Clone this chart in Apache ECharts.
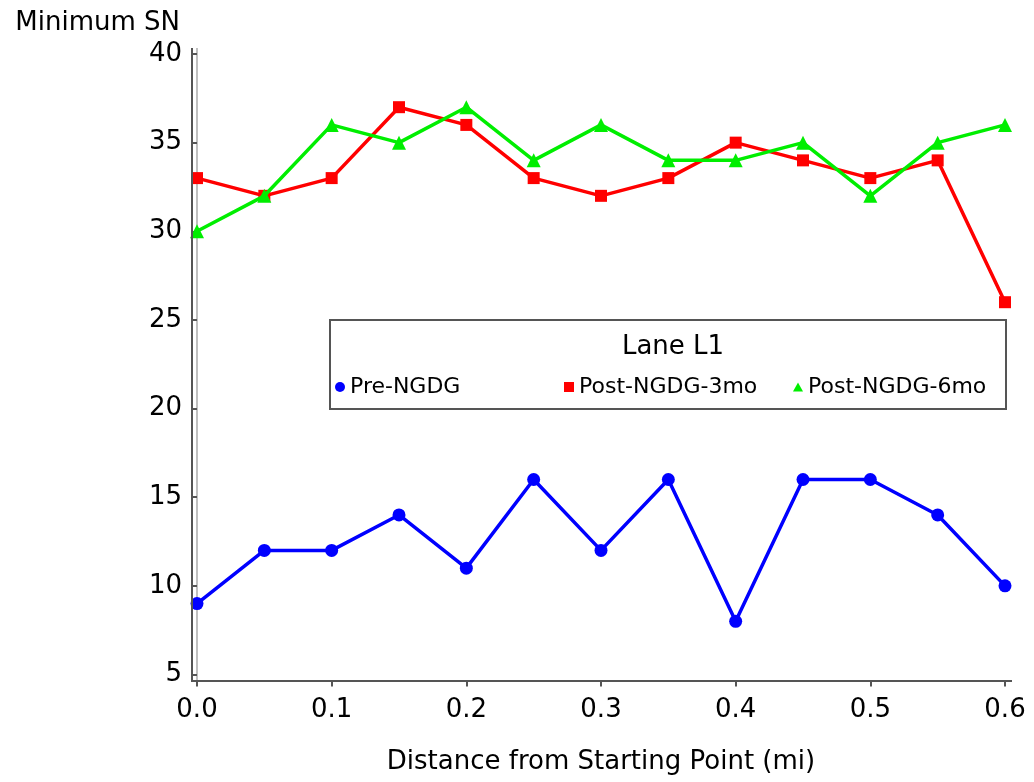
<!DOCTYPE html>
<html>
<head>
<meta charset="utf-8">
<script src="https://cdn.jsdelivr.net/npm/echarts@6/dist/echarts.min.js"></script>
<style>
html,body{margin:0;padding:0;background:#fff;}
#chart{width:1034px;height:782px;}
</style>
</head>
<body>
<div id="chart"></div>
<script>
const distances = [0.00, 0.05, 0.10, 0.15, 0.20, 0.25, 0.30, 0.35, 0.40, 0.45, 0.50, 0.55, 0.60];
const preNGDG   = [9, 12, 12, 14, 11, 16, 12, 16, 8, 16, 16, 14, 10];
const post3mo   = [33, 32, 33, 37, 36, 33, 32, 33, 35, 34, 33, 34, 26];
const post6mo   = [30, 32, 36, 35, 37, 34, 36, 34, 34, 35, 32, 35, 36];
const seriesNames = ['Pre-NGDG', 'Post-NGDG-3mo', 'Post-NGDG-6mo'];
const legendTitle = 'Lane L1';
const xTitle = 'Distance from Starting Point (mi)';
const yTitle = 'Minimum SN';

const pairs = vals => distances.map((d, i) => [d, vals[i]]);
const FONT = 'DejaVu Sans';
const AXIS_COLOR = '#555555';

const chart = echarts.init(document.getElementById('chart'), null, {renderer: 'canvas'});

function legendAt(left, name, icon, w, h) {
  return {
    data: [{name: name, icon: icon}],
    left: left, top: 375,
    orient: 'horizontal',
    itemWidth: w, itemHeight: h, itemGap: 0,
    padding: 0,
    textStyle: {fontFamily: FONT, fontSize: 22, color: '#000', padding: [0, 0, 0, 0], lineHeight: 24},
    selectedMode: false
  };
}

chart.setOption({
  animation: false,
  backgroundColor: '#ffffff',
  textStyle: {fontFamily: FONT},
  grid: {left: 197, right: 29, top: 54, bottom: 107.5, containLabel: false},
  title: {
    text: legendTitle,
    left: 668, top: 329, textAlign: 'center',
    textStyle: {fontFamily: FONT, fontSize: 26, fontWeight: 'normal', color: '#000'}
  },
  legend: [
    legendAt(335, seriesNames[0], 'circle', 10, 10),
    legendAt(564, seriesNames[1], 'rect', 10, 10),
    legendAt(793, seriesNames[2], 'triangle', 10, 9)
  ],
  xAxis: {
    type: 'value', min: 0, max: 0.6, interval: 0.1,
    offset: 6,
    name: xTitle, nameLocation: 'middle', nameGap: 69,
    nameTextStyle: {fontFamily: FONT, fontSize: 26, color: '#000'},
    axisLine: {show: false},
    axisTick: {show: true, length: 6, lineStyle: {color: AXIS_COLOR, width: 2}},
    axisLabel: {margin: 17, fontFamily: FONT, fontSize: 26, color: '#000',
      formatter: v => v.toFixed(1)},
    splitLine: {show: false}
  },
  yAxis: {
    type: 'value', min: 5, max: 40, interval: 5,
    offset: 5,
    name: yTitle, nameLocation: 'end', nameGap: 18,
    nameTextStyle: {fontFamily: FONT, fontSize: 26, color: '#000', align: 'right', padding: [0, 17, 0, 0]},
    axisLine: {show: false},
    axisTick: {show: true, length: 5, lineStyle: {color: AXIS_COLOR, width: 2}},
    axisLabel: {margin: 10, fontFamily: FONT, fontSize: 26, color: '#000', padding: [6, 0, 0, 0]},
    splitLine: {show: false}
  },
  graphic: [
    {type: 'polyline', z: 50, silent: true,
      shape: {points: [[192, 48], [192, 681], [1012, 681]]},
      style: {stroke: AXIS_COLOR, lineWidth: 2, fill: null}},
    {type: 'line', z: 0, silent: true,
      shape: {x1: 197, y1: 48, x2: 197, y2: 680},
      style: {stroke: '#b0b0b0', lineWidth: 1.6}},
    {type: 'rect', z: 1, silent: true,
      shape: {x: 330, y: 320, width: 676, height: 89},
      style: {fill: '#ffffff', stroke: AXIS_COLOR, lineWidth: 2}}
  ],
  series: [
    {
      name: seriesNames[0], type: 'line', data: pairs(preNGDG),
      symbol: 'circle', symbolSize: 13, z: 3,
      itemStyle: {color: '#0000ff'}, lineStyle: {color: '#0000ff', width: 3.5}
    },
    {
      name: seriesNames[1], type: 'line', data: pairs(post3mo),
      symbol: 'rect', symbolSize: 12, z: 4,
      itemStyle: {color: '#ff0000'}, lineStyle: {color: '#ff0000', width: 3.5}
    },
    {
      name: seriesNames[2], type: 'line', data: pairs(post6mo),
      symbol: 'triangle', symbolSize: 14, z: 5,
      itemStyle: {color: '#00ee00'}, lineStyle: {color: '#00ee00', width: 3.5}
    }
  ]
});
</script>
</body>
</html>
